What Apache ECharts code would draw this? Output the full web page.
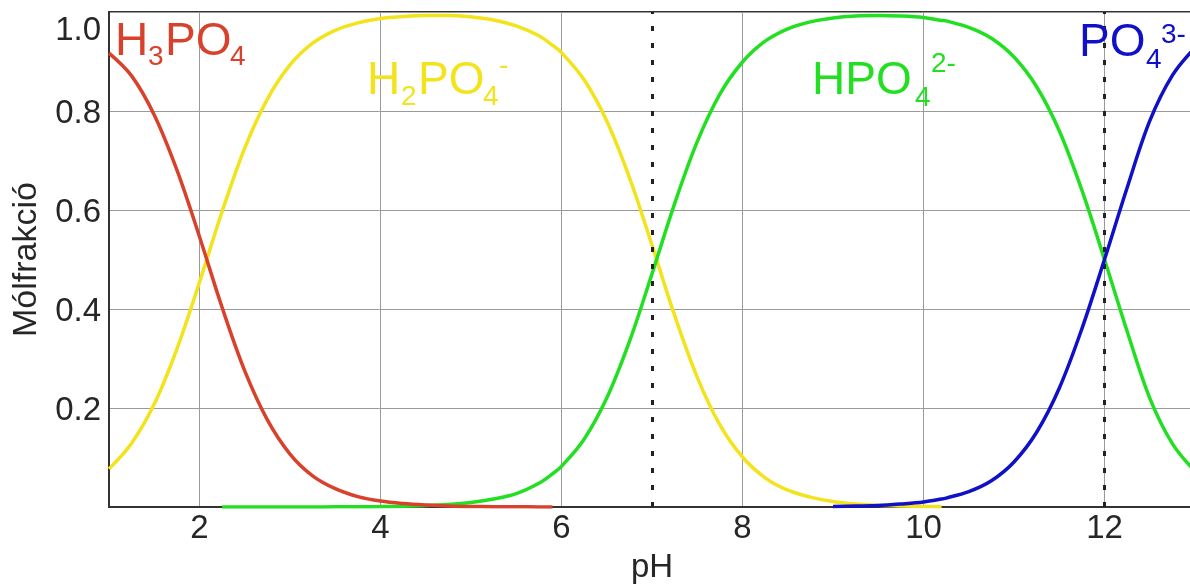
<!DOCTYPE html>
<html>
<head>
<meta charset="utf-8">
<script src="https://cdn.jsdelivr.net/npm/echarts@6/dist/echarts.min.js"></script>
<style>
  html, body { margin: 0; padding: 0; background: #ffffff; }
  #chart { width: 1190px; height: 584px; }
</style>
</head>
<body>
<div id="chart"></div>
<script>
// pH grid shared by every species curve
const ph = [1, 1.25, 1.5, 1.75, 2, 2.25, 2.5, 2.75, 3, 3.25, 3.5, 3.75, 4, 4.25, 4.5, 4.75,
  5, 5.25, 5.5, 5.75, 5.9, 6, 6.25, 6.5, 6.75, 7, 7.25, 7.5, 7.75, 8, 8.25, 8.5, 8.75,
  9, 9.25, 9.5, 9.75, 10, 10.2, 10.25, 10.5, 10.75, 11, 11.25, 11.5, 11.75, 12, 12.25, 12.5, 12.75, 13];

// mole fractions of each phosphate species (null = not drawn)
const h3po4 = [0.917, 0.871, 0.792, 0.681, 0.546, 0.403, 0.275, 0.176, 0.107, 0.063, 0.037, 0.021, 0.012, 0.007, 0.004, 0.002,
  0.001, 0.0007, 0.0004, 0.0002, 0.0001, null, null, null, null, null, null, null, null, null, null, null, null,
  null, null, null, null, null, null, null, null, null, null, null, null, null, null, null, null, null, null];
const h2po4 = [0.077, 0.129, 0.208, 0.319, 0.454, 0.597, 0.725, 0.824, 0.893, 0.937, 0.963, 0.978, 0.987, 0.991, 0.993, 0.993,
  0.990, 0.984, 0.972, 0.952, 0.933, 0.918, 0.863, 0.780, 0.666, 0.529, 0.387, 0.262, 0.166, 0.101, 0.059, 0.034, 0.020,
  0.011, 0.006, 0.0035, 0.002, 0.001, 0.0007, null, null, null, null, null, null, null, null, null, null, null, null];
const hpo4 = [null, null, null, null, null, 0.0, 0.0, 0.0, 0.0001, 0.0002, 0.0003, 0.0005, 0.0009, 0.0016, 0.0028, 0.005,
  0.009, 0.016, 0.027, 0.048, 0.067, 0.082, 0.137, 0.220, 0.334, 0.471, 0.613, 0.738, 0.834, 0.899, 0.941, 0.966, 0.980,
  0.988, 0.992, 0.993, 0.992, 0.989, 0.983, 0.982, 0.969, 0.947, 0.909, 0.849, 0.760, 0.640, 0.500, 0.355, 0.220, 0.128, 0.072];
const po4 = [null, null, null, null, null, null, null, null, null, null, null, null, null, null, null, null,
  null, null, null, null, null, null, null, null, null, null, null, null, null, null, null, null, null,
  0.001, 0.002, 0.003, 0.006, 0.010, 0.016, 0.018, 0.031, 0.053, 0.091, 0.151, 0.240, 0.360, 0.500, 0.645, 0.780, 0.872, 0.928];

// pH values marked with dashed guide lines
const markPh = [7, 12];

const FONT = 'Arial, "Liberation Sans", Helvetica, sans-serif';
const AXIS_TEXT = '#262626';
const TICK_SIZE = 33;

function pairs(values) {
  const out = [];
  values.forEach((v, i) => { if (v !== null) out.push([ph[i], v]); });
  return out;
}

function curve(name, values, color, z) {
  return {
    name: name,
    type: 'line',
    data: pairs(values),
    smooth: 0.35,
    showSymbol: false,
    z: z,
    lineStyle: { color: color, width: 3.5 },
    emphasis: { disabled: true }
  };
}

// formula labels built from pieces: main letters, subscripts, superscripts
function piece(text, x, y, size, color) {
  return {
    type: 'text',
    x: x, y: y, z: 20,
    style: { text: text, fill: color, font: size + 'px ' + FONT, verticalAlign: 'middle', align: 'left' }
  };
}

const RED = '#d8412b', YEL = '#f3e31c', GRN = '#22df22', BLU = '#1010c8';
const BIG = 46, SMALL = 28;

const labels = [
  piece('H', 115, 42, BIG, RED), piece('3', 148, 57, SMALL, RED),
  piece('PO', 165, 42, BIG, RED), piece('4', 230, 57, SMALL, RED),

  piece('H', 367, 81, BIG, YEL), piece('2', 401, 97, SMALL, YEL),
  piece('PO', 418, 81, BIG, YEL), piece('4', 483, 97, SMALL, YEL), piece('-', 499, 66, SMALL, YEL),

  piece('HPO', 812, 81, BIG, GRN), piece('4', 915, 98, SMALL, GRN), piece('2-', 931, 64, SMALL, GRN),

  piece('PO', 1079, 43, BIG, BLU), piece('4', 1146, 60, SMALL, BLU), piece('3-', 1161, 35, SMALL, BLU)
];

const chart = echarts.init(document.getElementById('chart'), null, { renderer: 'canvas' });

chart.setOption({
  animation: false,
  backgroundColor: '#ffffff',
  grid: {
    left: 109, top: 12, width: 1086, height: 495,
    outerBoundsMode: 'none',
    containLabel: false,
    show: true, borderColor: '#333333', borderWidth: 2, backgroundColor: 'transparent'
  },
  xAxis: {
    type: 'value',
    min: 1, max: 13, splitNumber: 6,
    name: 'pH',
    nameLocation: 'middle',
    nameGap: 44,
    nameTextStyle: { fontSize: 33, color: AXIS_TEXT, fontFamily: FONT },
    axisLine: { show: true, lineStyle: { color: '#333333', width: 2 } },
    axisTick: { show: false },
    axisLabel: {
      showMinLabel: false, showMaxLabel: false,
      margin: 5, fontSize: TICK_SIZE, color: AXIS_TEXT, fontFamily: FONT
    },
    splitLine: { show: true, lineStyle: { color: '#9a9a9a', width: 1 } }
  },
  yAxis: {
    type: 'value',
    min: 0, max: 1, interval: 0.2,
    name: 'Mólfrakció',
    nameLocation: 'middle',
    nameGap: 65,
    nameTextStyle: { fontSize: 34, color: AXIS_TEXT, fontFamily: FONT },
    axisLine: { show: true, lineStyle: { color: '#333333', width: 2 } },
    axisTick: { show: false },
    axisLabel: {
      margin: 8, fontSize: TICK_SIZE, color: AXIS_TEXT, fontFamily: FONT,
      formatter: function (v) {
        if (v === 0) return '';
        if (v === 1) return '{top|1.0}';
        return '{n|' + v.toFixed(1) + '}';
      },
      rich: {
        top: { fontSize: TICK_SIZE, color: AXIS_TEXT, fontFamily: FONT, padding: [38, 0, 0, 0] },
        n: { fontSize: TICK_SIZE, color: AXIS_TEXT, fontFamily: FONT, padding: [6, 0, 0, 0] }
      }
    },
    splitLine: { show: true, lineStyle: { color: '#9a9a9a', width: 1 } }
  },
  series: [
    curve('H2PO4-', h2po4, YEL, 2),
    curve('HPO4 2-', hpo4, GRN, 3),
    curve('H3PO4', h3po4, RED, 4),
    Object.assign(curve('PO4 3-', po4, BLU, 5), {
      markLine: {
        silent: true,
        symbol: 'none',
        label: { show: false },
        lineStyle: { color: '#222222', width: 3, type: [5, 12] },
        data: markPh.map(v => ({ xAxis: v }))
      }
    })
  ],
  graphic: labels
});
</script>
</body>
</html>
